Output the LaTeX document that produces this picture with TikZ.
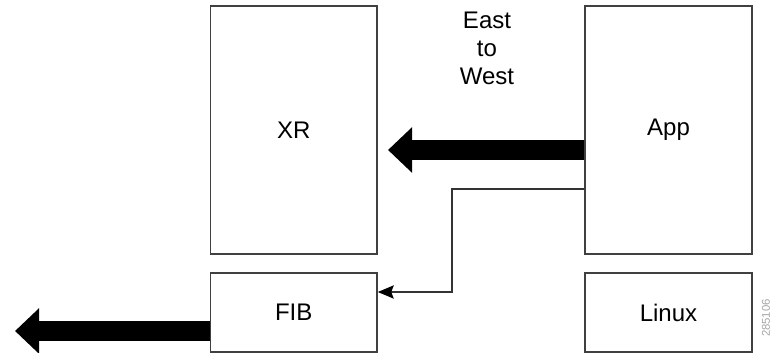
\documentclass[tikz,border=0pt]{standalone}
\usepackage{fontspec}
\setmainfont{Liberation Sans}
\usetikzlibrary{arrows.meta}

\tikzset{
  blockbox/.style={draw=black!75, line width=1.1pt, minimum width=125pt, minimum height=186pt, inner sep=0pt,
    font=\fontsize{18}{21}\selectfont},
  lowbox/.style={blockbox, minimum height=59pt},
  fatarrow/.style={line width=15.5pt, -{Triangle[length=18pt,width=33pt]}},
  thinarrow/.style={draw=black!80, line width=0.8pt, -{Stealth[length=12pt,width=10pt,inset=2pt,black]}}
}

\begin{document}
\begin{tikzpicture}[x=0.75pt,y=-0.75pt]
                \useasboundingbox (0,0) rectangle (775,353);

                \node[blockbox] (xr) at (293.75,130) {XR};
                \node[lowbox] (fib) at (293.75,312.5) {FIB};
                \node[blockbox] (app) at (668.5,130) {App};
                \node[lowbox] (linux) at (668.5,312.5) {Linux};

                \node[align=center, inner sep=0pt, font=\fontsize{18}{21}\selectfont] (dir) at (487,48) {East\\to\\West};
                \node[rotate=90, inner sep=0pt, text=black!35, font=\fontsize{8.5}{10}\selectfont] (figid) at (766,318) {285106};

                % east to west data path
                \coordinate (xrtip) at (388,150);
                \draw[fatarrow] (app.west |- xrtip) -- (xrtip);

                % out of the box
                \coordinate (outtip) at (15,331);
                \draw[fatarrow] (fib.west |- outtip) -- (outtip);

                % route down to the FIB
                \coordinate (bend) at (452,189);
                \draw[thinarrow] (app.west |- bend) -- (bend) -- (bend |- 0,292) -- (fib.east |- 0,292);
            \end{tikzpicture}
\end{document}
